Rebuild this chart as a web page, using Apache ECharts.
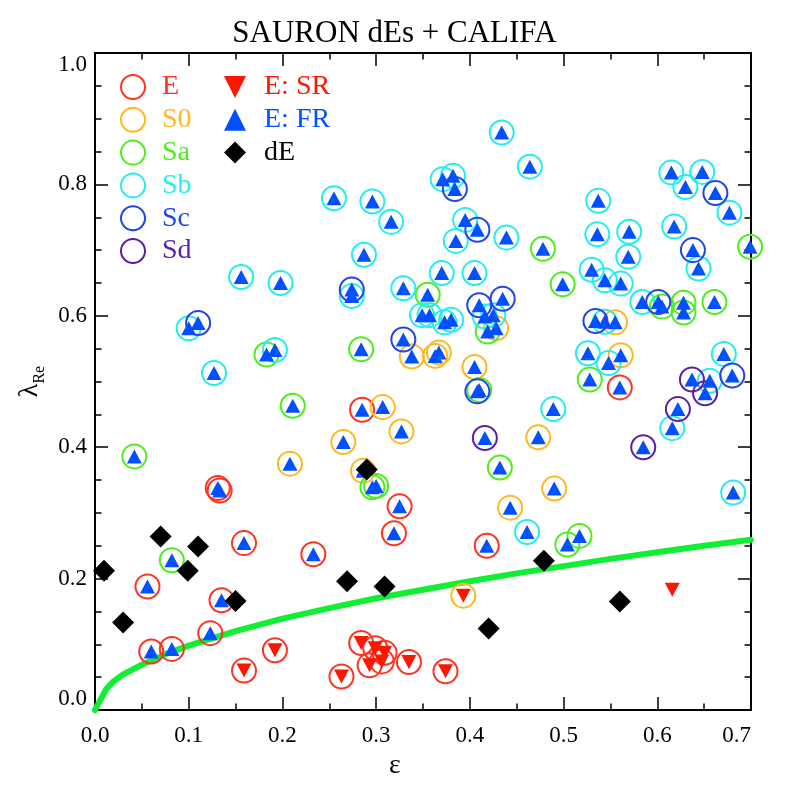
<!DOCTYPE html>
<html>
<head>
<meta charset="utf-8">
<script src="https://cdn.jsdelivr.net/npm/echarts@6/dist/echarts.min.js"></script>
<style>html,body{margin:0;padding:0;background:#fff}#c{width:789px;height:789px}</style>
</head>
<body>
<div id="c"></div>
<script>
// ---- data: [epsilon, lambda_Re, kinematics F=fast / S=slow]
const morphE = [
  [0.285,0.457,'F'],[0.325,0.310,'F'],[0.319,0.269,'F'],[0.418,0.250,'F'],[0.560,0.491,'F'],
  [0.131,0.338,'F'],[0.133,0.334,'F'],[0.159,0.254,'F'],[0.233,0.237,'F'],[0.056,0.188,'F'],
  [0.135,0.167,'F'],[0.123,0.117,'F'],[0.060,0.089,'F'],[0.082,0.093,'F'],
  [0.159,0.060,'S'],[0.192,0.091,'S'],[0.263,0.051,'S'],[0.284,0.102,'S'],[0.299,0.094,'S'],
  [0.309,0.087,'S'],[0.293,0.068,'S'],[0.306,0.074,'S'],[0.335,0.073,'S'],[0.374,0.059,'S']
];
const morphS0 = [
  [0.428,0.581,'F'],[0.338,0.538,'F'],[0.363,0.539,'F'],[0.367,0.544,'F'],[0.405,0.522,'F'],
  [0.555,0.590,'F'],[0.561,0.540,'F'],[0.307,0.461,'F'],[0.327,0.424,'F'],[0.265,0.408,'F'],
  [0.286,0.364,'F'],[0.473,0.415,'F'],[0.490,0.337,'F'],[0.443,0.308,'F'],[0.208,0.375,'F'],
  [0.393,0.174,'S']
];
const morphSa = [
  [0.478,0.702,'F'],[0.355,0.632,'F'],[0.419,0.576,'F'],[0.284,0.549,'F'],[0.183,0.541,'F'],
  [0.499,0.648,'F'],[0.605,0.614,'F'],[0.628,0.620,'F'],[0.628,0.605,'F'],[0.661,0.621,'F'],
  [0.699,0.705,'F'],[0.528,0.503,'F'],[0.410,0.487,'F'],[0.211,0.463,'F'],[0.042,0.386,'F'],
  [0.432,0.369,'F'],[0.296,0.339,'F'],[0.300,0.341,'F'],[0.504,0.252,'F'],[0.517,0.265,'F'],
  [0.082,0.228,'F']
];
const morphSb = [
  [0.156,0.659,'F'],[0.198,0.650,'F'],[0.100,0.581,'F'],[0.192,0.548,'F'],[0.127,0.513,'F'],
  [0.255,0.779,'F'],[0.296,0.774,'F'],[0.316,0.743,'F'],[0.287,0.693,'F'],[0.371,0.808,'F'],
  [0.382,0.813,'F'],[0.434,0.879,'F'],[0.464,0.827,'F'],[0.395,0.746,'F'],[0.385,0.714,'F'],
  [0.439,0.719,'F'],[0.370,0.665,'F'],[0.405,0.665,'F'],[0.274,0.630,'F'],[0.329,0.642,'F'],
  [0.349,0.601,'F'],[0.357,0.601,'F'],[0.373,0.590,'F'],[0.380,0.594,'F'],[0.416,0.599,'F'],
  [0.425,0.601,'F'],[0.615,0.818,'F'],[0.648,0.819,'F'],[0.630,0.796,'F'],[0.677,0.757,'F'],
  [0.537,0.775,'F'],[0.536,0.724,'F'],[0.570,0.728,'F'],[0.618,0.736,'F'],[0.569,0.690,'F'],
  [0.644,0.672,'F'],[0.530,0.670,'F'],[0.544,0.654,'F'],[0.561,0.649,'F'],[0.584,0.621,'F'],
  [0.544,0.591,'F'],[0.526,0.543,'F'],[0.548,0.528,'F'],[0.671,0.542,'F'],[0.656,0.501,'F'],
  [0.489,0.458,'F'],[0.616,0.429,'F'],[0.681,0.331,'F'],[0.461,0.271,'F']
];
const morphSc = [
  [0.110,0.589,'F'],[0.384,0.793,'F'],[0.408,0.731,'F'],[0.274,0.640,'F'],[0.410,0.616,'F'],
  [0.435,0.626,'F'],[0.329,0.564,'F'],[0.662,0.787,'F'],[0.638,0.700,'F'],[0.601,0.621,'F'],
  [0.534,0.592,'F'],[0.680,0.509,'F'],[0.408,0.485,'F']
];
const morphSd = [
  [0.416,0.414,'F'],[0.637,0.503,'F'],[0.651,0.482,'F'],[0.622,0.458,'F'],[0.585,0.400,'F']
];
const srNoClass = [[0.616,0.183]];
const dwarfE = [
  [0.0096,0.212],[0.030,0.133],[0.070,0.264],[0.099,0.212],[0.110,0.249],[0.150,0.166],
  [0.269,0.196],[0.290,0.366],[0.309,0.188],[0.420,0.124],[0.479,0.227],[0.560,0.165]
];
// green dividing curve
const curveEps = [0,0.012,0.02,0.03,0.05,0.075,0.1,0.15,0.2,0.25,0.3,0.35,0.4,0.45,0.5,0.55,0.6,0.65,0.7];
const curveLam = [0,0.032,0.044,0.054,0.069,0.085,0.098,0.12,0.139,0.155,0.17,0.183,0.196,0.208,0.219,0.23,0.24,0.25,0.259];
const xTicks = ['0.0','0.1','0.2','0.3','0.4','0.5','0.6','0.7'];
const yTicks = ['0.0','0.2','0.4','0.6','0.8','1.0'];

const FONT = 'Liberation Serif';
const COL = {E:'#ff3322', S0:'#ffb820', Sa:'#4cef1a', Sb:'#22eeee', Sc:'#2244e8', Sd:'#5a1fa8',
             SR:'#ff1500', FR:'#0050ff', dE:'#000000', line:'#11ee33'};
const downTri = 'path://M0,0L10,0L5,10Z';

const morphs = [['E',morphE],['S0',morphS0],['Sa',morphSa],['Sb',morphSb],['Sc',morphSc],['Sd',morphSd]];
const allPts = morphs.reduce((a,m)=>a.concat(m[1]),[]);
const frData = allPts.filter(d=>d[2]==='F').map(d=>[d[0],d[1]]);
const srData = allPts.filter(d=>d[2]==='S').map(d=>[d[0],d[1]]).concat(srNoClass);

const series = [{
  type:'line', name:'curve', data: curveEps.map((e,i)=>[e,curveLam[i]]),
  showSymbol:false, smooth:false,
  lineStyle:{color:COL.line, width:6, join:'round', cap:'round'}, silent:true, z:1
}];
morphs.forEach(([n,arr])=>{
  series.push({type:'scatter', name:n, data:arr.map(d=>[d[0],d[1]]), symbol:'circle', symbolSize:24,
    itemStyle:{color:'rgba(0,0,0,0)', borderColor:COL[n], borderWidth:2, opacity:1}, silent:true, z:2});
});
series.push({type:'scatter', name:'E: SR', data:srData, symbol:downTri, symbolSize:[15,14],
  itemStyle:{color:COL.SR, opacity:1}, silent:true, z:3});
series.push({type:'scatter', name:'E: FR', data:frData, symbol:'triangle', symbolSize:[15,14],
  itemStyle:{color:COL.FR, opacity:1}, silent:true, z:3});
series.push({type:'scatter', name:'dE', data:dwarfE, symbol:'diamond', symbolSize:22,
  itemStyle:{color:COL.dE, opacity:1}, silent:true, z:4});

const axCommon = {
  axisLine:{show:true, onZero:false, lineStyle:{color:'#000', width:2}},
  splitLine:{show:false}
};
const option = {
  animation:false,
  backgroundColor:'#fff',
  title:{text:'SAURON dEs + CALIFA', left:'center', top:13,
    textStyle:{fontFamily:FONT, fontSize:31, fontWeight:'normal', color:'#000'}},
  grid:{left:95, right:38, top:53, bottom:79},
  legend:[{
    left:120, top:73, padding:0, orient:'vertical', itemWidth:24, itemHeight:24, itemGap:4.8,
    selectedMode:false,
    textStyle:{fontFamily:FONT, fontSize:28, lineHeight:24, padding:[0,0,0,12]},
    data: morphs.map(([n])=>({name:n, icon:'circle',
      itemStyle:{color:'rgba(0,0,0,0)', borderColor:COL[n], borderWidth:2},
      textStyle:{color:COL[n]}}))
  },{
    left:224, top:73, padding:0, orient:'vertical', itemWidth:22, itemHeight:22, itemGap:4.8,
    selectedMode:false,
    textStyle:{fontFamily:FONT, fontSize:28, lineHeight:22, padding:[0,0,0,13]},
    data:[
      {name:'E: SR', icon:downTri, itemStyle:{color:COL.SR}, textStyle:{color:COL.SR}},
      {name:'E: FR', icon:'triangle', itemStyle:{color:COL.FR}, textStyle:{color:COL.FR}},
      {name:'dE', icon:'diamond', itemStyle:{color:COL.dE}, textStyle:{color:COL.dE}}
    ]
  }],
  xAxis:[Object.assign({}, axCommon, {
    type:'value', position:'bottom', min:0, max:0.7, interval:0.1,
    axisTick:{show:true, inside:true, length:13, lineStyle:{color:'#000', width:1.5}},
    minorTick:{show:true, splitNumber:2, length:6.5, lineStyle:{color:'#000', width:1.5}},
    axisLabel:{fontFamily:FONT, fontSize:23, color:'#000', margin:14,
      formatter:(v)=>xTicks[Math.round(v*10)], alignMaxLabel:'right'},
    name:'ε', nameLocation:'middle', nameGap:42,
    nameTextStyle:{fontFamily:FONT, fontSize:28, color:'#000', padding:[0,56,0,0]}
  }), Object.assign({}, axCommon, {
    type:'value', position:'top', min:0, max:0.7, interval:0.1,
    axisTick:{show:true, inside:true, length:13, lineStyle:{color:'#000', width:1.5}},
    minorTick:{show:true, splitNumber:2, length:6.5, lineStyle:{color:'#000', width:1.5}},
    axisLabel:{show:false}
  })],
  yAxis:[Object.assign({}, axCommon, {
    type:'value', position:'left', min:0, max:1, interval:0.2,
    axisTick:{show:true, inside:true, length:13, lineStyle:{color:'#000', width:1.5}},
    minorTick:{show:true, splitNumber:4, length:6.5, lineStyle:{color:'#000', width:1.5}},
    axisLabel:{fontFamily:FONT, fontSize:23, color:'#000', margin:8,
      formatter:(v)=>yTicks[Math.round(v*5)],
      verticalAlignMinLabel:'bottom', verticalAlignMaxLabel:'top'},
    name:'{l|λ}{s|Re}', nameLocation:'middle', nameGap:50, nameRotate:90,
    nameTextStyle:{color:'#000', rich:{
      l:{fontFamily:FONT, fontSize:28, color:'#000', lineHeight:30, verticalAlign:'bottom'},
      s:{fontFamily:FONT, fontSize:16, color:'#000', lineHeight:30, verticalAlign:'bottom', padding:[0,0,-4,0]}
    }}
  }), Object.assign({}, axCommon, {
    type:'value', position:'right', min:0, max:1, interval:0.2,
    axisTick:{show:true, inside:true, length:13, lineStyle:{color:'#000', width:1.5}},
    minorTick:{show:true, splitNumber:4, length:6.5, lineStyle:{color:'#000', width:1.5}},
    axisLabel:{show:false}
  })],
  series: series
};
const chart = echarts.init(document.getElementById('c'), null, {renderer:'canvas'});
chart.setOption(option);
</script>
</body>
</html>
